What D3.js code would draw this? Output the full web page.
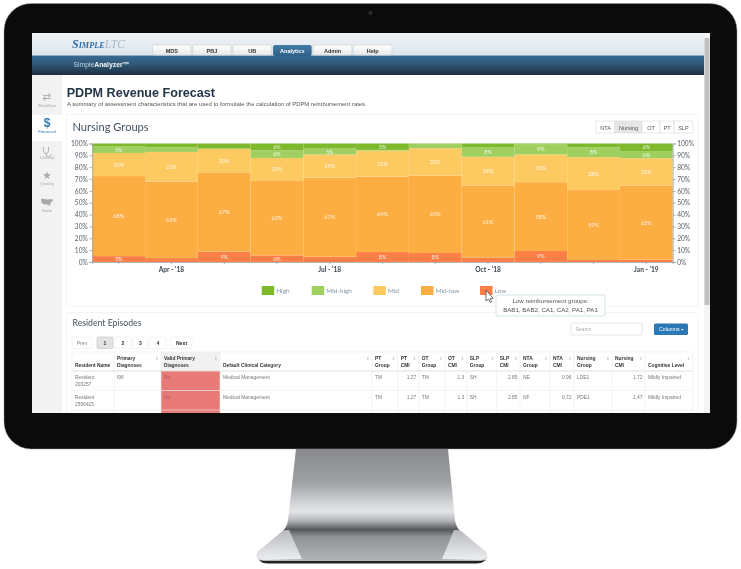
<!DOCTYPE html>
<html>
<head>
<meta charset="utf-8">
<title>PDPM Revenue Forecast</title>
<script src="https://cdn.jsdelivr.net/npm/d3@7"></script>
<style>
  html, body { margin: 0; background: #fff; }
  svg { display: block; }
</style>
</head>
<body>
<svg id="page" width="741" height="569"></svg>
<script>
// Chart data (share of residents per month, in %)
const months = ["Mar - '18", "Apr - '18", "May - '18", "Jun - '18", "Jul - '18", "Aug - '18", "Sep - '18", "Oct - '18", "Nov - '18", "Dec - '18", "Jan - '19"];
const labelledMonths = ["Apr - '18", "Jul - '18", "Oct - '18", "Jan - '19"];
const lowValues     = [5.0, 3.3, 8.7, 5.6, 4.5, 8.4, 7.6, 3.6, 9.3, 1.7, 2.0];
const midLowValues  = [67.5, 64.6, 66.5, 62.8, 66.8, 63.6, 65.2, 61.0, 58.1, 59.0, 62.6];
const midValues     = [19.5, 25.0, 20.2, 19.4, 19.4, 22.0, 23.2, 24.2, 23.4, 27.8, 23.0];
const midHighValues = [5.4, 3.9, 0.3, 6.4, 5.0, 0.6, 3.7, 8.2, 8.7, 8.3, 6.1];
const highValues    = [2.6, 3.2, 4.3, 5.8, 4.3, 5.4, 0.3, 3.0, 0.5, 3.2, 6.3];
const yTicks = [0, 10, 20, 30, 40, 50, 60, 70, 80, 90, 100];

// Legend order is top of the stack first
const groupNames = ["High", "Mid-high", "Mid", "Mid-low", "Low"];
const groupColors = ["#7db92c", "#9fd05e", "#fcca60", "#fdae42", "#fd7f47"];
const groupValues = [highValues, midHighValues, midValues, midLowValues, lowValues];

const tabs = ["MDS", "PBJ", "UB", "Analytics", "Admin", "Help"];
const groupButtons = ["NTA", "Nursing", "OT", "PT", "SLP"];
const pages = ["Prev", "1", "2", "3", "4", "Next"];
const sideItems = ["Workflow", "Financial", "Clinical", "Quality", "State"];
const tableHead = [["Resident Name"], ["Primary", "Diagnoses"], ["Valid Primary", "Diagnoses"], ["Default Clinical Category"], ["PT", "Group"], ["PT", "CMI"], ["OT", "Group"], ["OT", "CMI"], ["SLP", "Group"], ["SLP", "CMI"], ["NTA", "Group"], ["NTA", "CMI"], ["Nursing", "Group"], ["Nursing", "CMI"], ["Cognitive Level"]];
const tableRows = [
  [["Resident", "203257"], ["I96"], ["No"], ["Medical Management"], ["TM"], ["1.27"], ["TM"], ["1.3"], ["SH"], ["2.85"], ["NE"], ["0.96"], ["LDE1"], ["1.72"], ["Mildly Impaired"]],
  [["Resident", "2556415"], [""], ["No"], ["Medical Management"], ["TM"], ["1.27"], ["TM"], ["1.3"], ["SH"], ["2.85"], ["NF"], ["0.72"], ["PDE1"], ["1.47"], ["Mildly Impaired"]],
  [[""], [""], [""], [""], [""], [""], [""], [""], [""], [""], [""], [""], [""], [""], [""]]
];
const tooltipLines = ["Low reimbursement groups:", "BAB1, BAB2, CA1, CA2, PA1, PA1"];

const svg = d3.select("#page");
const defs = svg.append("defs");
const sans = "'Liberation Sans', Arial, sans-serif";
const lato = "Lato, 'Open Sans', sans-serif";

function gradient(id, stops) {
  const g = defs.append("linearGradient").attr("id", id).attr("x1", 0).attr("y1", 0).attr("x2", 0).attr("y2", 1);
  stops.forEach(s => g.append("stop").attr("offset", s[0]).attr("stop-color", s[1]));
}
gradient("topBand", [[0, "#eef2f6"], [1, "#dde5ec"]]);
gradient("navBand", [[0, "#386a92"], [0.45, "#2f5877"], [1, "#1d3040"]]);
gradient("tab", [[0, "#ffffff"], [1, "#e9e9e9"]]);
gradient("tabOn", [[0, "#3f7ba6"], [1, "#2f6288"]]);
gradient("stand", [[0, "#87888c"], [0.3, "#a0a1a4"], [0.5, "#d8d9db"], [0.56, "#e3e4e6"], [0.64, "#b4b5b8"], [0.72, "#55565a"], [0.78, "#8f9094"], [1, "#b4b5b8"]]);
gradient("foot", [[0, "#b9babd"], [1, "#eceef0"]]);
defs.append("filter").attr("id", "soft").append("feGaussianBlur").attr("stdDeviation", 0.3);
defs.append("clipPath").attr("id", "screen").append("rect").attr("x", 32.5).attr("y", 33.5).attr("width", 677).attr("height", 379.5);

function rect(parent, x0, y0, x1, y1, fill, stroke, rx) {
  return parent.append("rect").attr("x", x0).attr("y", y0).attr("width", x1 - x0).attr("height", y1 - y0)
    .attr("fill", fill).attr("stroke", stroke || "none").attr("stroke-width", stroke ? 0.7 : 0).attr("rx", rx || 0);
}
function label(parent, x, y, str, size, color, opts) {
  const o = opts || {};
  return parent.append("text").attr("x", x).attr("y", y).text(str)
    .attr("font-family", o.family || lato).attr("font-size", size).attr("fill", color)
    .attr("font-weight", o.weight || 400).attr("font-style", o.style || "normal")
    .attr("text-anchor", o.anchor || "start");
}

// Monitor: stand first, then the bezel over it
const stand = svg.append("g");
stand.append("path").attr("d", "M257,556 Q256,553 259,551 L283,531 Q287,527 288,520 L296,449 L448,449 L455,520 Q456,527 460,531 L484,551 Q488,554 487,557 Q486,561 480,561 L264,561 Q258,561 257,556 Z")
  .attr("fill", "url(#stand)");
stand.append("path").attr("d", "M257,556 Q256,553 259,551 L283,531 Q285,530 289,530 L302,559 L264,560 Q258,560 257,556 Z").attr("fill", "url(#foot)");
stand.append("path").attr("d", "M487,556 Q488,553 485,551 L461,531 Q459,530 454,530 L442,559 L480,560 Q486,560 487,556 Z").attr("fill", "url(#foot)");
stand.append("path").attr("d", "M259,560 Q262,563.5 268,563.5 L476,563.5 Q482,563.5 486,560 L480,561 L264,561 Z").attr("fill", "#222");

rect(svg, 4, 3.5, 737, 449, "#0b0b0b", null, 27).attr("stroke", "#9a9a9a").attr("stroke-width", 0.5);
svg.append("circle").attr("cx", 370.5).attr("cy", 13).attr("r", 2).attr("fill", "#2c2c30");

// Everything inside the screen is clipped, the table runs off the bottom
const screen = svg.append("g").attr("clip-path", "url(#screen)").attr("filter", "url(#soft)");
rect(screen, 32, 33, 710, 414, "#ffffff");

// Header bands and tabs
rect(screen, 32, 33, 704, 55.5, "url(#topBand)");
rect(screen, 32, 55.5, 704, 75, "url(#navBand)");
const logo = screen.append("text").attr("x", 72).attr("y", 48).attr("font-family", "'Liberation Serif', serif").attr("font-style", "italic");
logo.append("tspan").text("S").attr("font-size", 12).attr("fill", "#2f6fa6").attr("font-weight", 700);
logo.append("tspan").text("IMPLE").attr("font-size", 8.2).attr("fill", "#2f6fa6").attr("font-weight", 700);
logo.append("tspan").text("LTC").attr("font-size", 11.5).attr("fill", "#a9bac8");

const tabX = d3.scaleBand().domain(tabs).range([152.5, 392]).paddingInner(0.04);
tabs.forEach(t => {
  const on = t === "Analytics";
  rect(screen, tabX(t), 45, tabX(t) + tabX.bandwidth(), on ? 56 : 55, on ? "url(#tabOn)" : "url(#tab)", on ? null : "#d0d4d8", 2);
  label(screen, tabX(t) + tabX.bandwidth() / 2, 52.5, t, 5.5, on ? "#fff" : "#333", { family: sans, weight: 700, anchor: "middle" });
});
const product = screen.append("text").attr("x", 73.5).attr("y", 66.5).attr("font-family", sans).attr("font-size", 6.8);
product.append("tspan").text("Simple").attr("fill", "#bfd2e0");
product.append("tspan").text("Analyzer™").attr("fill", "#f2f5f7").attr("font-weight", 700);

// Side navigation
rect(screen, 32, 75, 62, 414, "#f2f2f2");
rect(screen, 32, 115, 64, 141, "#ffffff");
const sideY = d3.scalePoint().domain(sideItems).range([106.5, 211.5]);
sideItems.forEach(s => {
  const on = s === "Financial";
  label(screen, 47, sideY(s), s, 4.4, on ? "#2f7ab5" : "#a8a8a8", { family: sans, anchor: "middle" });
});
label(screen, 47, 127, "$", 12, "#2f7ab5", { family: sans, weight: 700, anchor: "middle" });
label(screen, 47, 99.5, "⇄", 10.5, "#a9a9a9", { family: "'DejaVu Sans'", anchor: "middle" });
label(screen, 47, 178.5, "★", 10.5, "#a9a9a9", { family: "'DejaVu Sans'", anchor: "middle" });
// Stethoscope and map glyphs have no font equivalent
screen.append("path").attr("d", "M43.5,147 v3.5 q0,3 2.5,3 q2.5,0 2.5,-3 v-3.5 M46,153.5 q0,3.5 2.5,3.5 q2.5,0 2.5,-2.5").attr("fill", "none").attr("stroke", "#b0b0b0").attr("stroke-width", 1);
screen.append("path").attr("d", "M41,198.5 L47,199.5 L52.5,199 L53,200.5 L50.5,203 L50,206 L48,204.5 L44,204.5 L41.5,202.5 Z").attr("fill", "#a9a9a9");

// Page heading
label(screen, 66.7, 96.8, "PDPM Revenue Forecast", 12.6, "#24354a", { family: sans, weight: 700 });
label(screen, 67, 105.5, "A summary of assessment characteristics that are used to formulate the calculation of PDPM reimbursement rates.", 5.92, "#555", { family: sans });

// Cards
rect(screen, 66.5, 114.5, 698, 306, "#fff", "#eeeeee", 2);
rect(screen, 66.5, 312.5, 698, 420, "#fff", "#eeeeee", 2);
label(screen, 72.5, 131, "Nursing Groups", 11.1, "#44525f");
label(screen, 72.5, 326, "Resident Episodes", 8.7, "#44525f");

// NTA / Nursing / OT / PT / SLP switch
const groupBtnEdges = [596, 615, 642, 660, 674, 693];
groupButtons.forEach((b, i) => {
  const on = b === "Nursing";
  rect(screen, groupBtnEdges[i], 121, groupBtnEdges[i + 1], 133, on ? "#e6e6e6" : "#fff", "#dddddd");
  label(screen, (groupBtnEdges[i] + groupBtnEdges[i + 1]) / 2, 129.5, b, 5.5, "#555", { family: sans, anchor: "middle" });
});

// Stacked bars: scales run over the months and the 0-100 share axis
const plot = { left: 92.3, right: 672.7, top: 143.5, bottom: 262 };
const x = d3.scaleBand().domain(months).range([plot.left, plot.right]);
const y = d3.scaleLinear().domain([0, 100]).range([plot.bottom, plot.top]);

const stackRows = months.map((m, i) => {
  const row = { month: m };
  groupNames.forEach((g, k) => { row[g] = groupValues[k][i]; });
  return row;
});
const stacked = d3.stack().keys(groupNames.slice().reverse())(stackRows);
const color = d3.scaleOrdinal().domain(groupNames).range(groupColors);

const layers = screen.append("g").selectAll("g").data(stacked).join("g")
  .attr("fill", d => color(d.key));
layers.selectAll("rect").data(d => d).join("rect")
  .attr("x", d => x(d.data.month))
  .attr("y", d => y(d[1]))
  .attr("width", x.bandwidth())
  .attr("height", d => y(d[0]) - y(d[1]))
  .attr("stroke", "#ffffff").attr("stroke-opacity", 0.05).attr("stroke-width", 0.5);
// Segments under 5% carry no label
layers.selectAll("text").data(d => d.filter(v => v[1] - v[0] >= 5)).join("text")
  .attr("x", d => x(d.data.month) + x.bandwidth() / 2)
  .attr("y", d => (y(d[0]) + y(d[1])) / 2 + 2)
  .attr("text-anchor", "middle")
  .attr("font-family", lato).attr("font-size", 5.5).attr("fill", "#fff").attr("fill-opacity", 0.85)
  .text(d => Math.round(d[1] - d[0]) + "%");

function styleAxis(g) {
  g.selectAll("path, line").attr("stroke", "#8f98a0").attr("stroke-width", 0.7);
  g.selectAll("text").attr("font-family", lato).attr("font-size", 6.6).attr("fill", "#56606a");
}
const yFormat = d => d + "%";
screen.append("g").attr("transform", `translate(${plot.left},0)`)
  .call(d3.axisLeft(y).tickValues(yTicks).tickFormat(yFormat).tickSize(3).tickPadding(1.5)).call(styleAxis);
screen.append("g").attr("transform", `translate(${plot.right},0)`)
  .call(d3.axisRight(y).tickValues(yTicks).tickFormat(yFormat).tickSize(3).tickPadding(1.5)).call(styleAxis);
screen.append("g").attr("transform", `translate(0,${plot.bottom})`)
  .call(d3.axisBottom(x).tickFormat(m => labelledMonths.includes(m) ? m : "").tickSize(2).tickPadding(3.5))
  .call(styleAxis)
  .call(g => g.selectAll("text").attr("font-weight", 700).attr("fill", "#3c4650"));

// Legend
const legendX = [261.7, 311.7, 373.3, 421, 480];
groupNames.forEach((g, i) => {
  rect(screen, legendX[i], 286, legendX[i] + 12.5, 295, color(g));
  label(screen, legendX[i] + 14.5, 293, g, 6.5, "#8497a6");
});

// Tooltip and mouse pointer
rect(screen, 496, 295, 605, 316, "#fff", "#bcd6dc", 2);
tooltipLines.forEach((l, i) => {
  label(screen, 550.5, 303 + i * 8.7, l, 6.15, "#555", { family: sans, anchor: "middle" });
});
screen.append("path").attr("d", "M486,290 v11 l2.5,-2 l1.6,3.5 l1.6,-0.8 l-1.6,-3.4 h3 Z").attr("fill", "#fff").attr("stroke", "#333").attr("stroke-width", 0.7);

// Table tools
rect(screen, 571, 323, 642, 335, "#fff", "#dddddd", 1);
label(screen, 575.5, 331, "Search", 5, "#aaaaaa", { family: sans });
rect(screen, 654, 323.5, 688, 335, "#2a79b6", null, 1.5);
label(screen, 659, 331.3, "Columns", 5.2, "#fff", { family: sans });
screen.append("path").attr("d", "M681,329 h2.6 l-1.3,1.5 Z").attr("fill", "#fff");

// Pagination
const pageEdges = [[72, 92], [97, 113], [115, 131], [133, 148], [150, 166], [171, 192]];
pages.forEach((p, i) => {
  const on = p === "1";
  rect(screen, pageEdges[i][0], 337, pageEdges[i][1], 348.5, on ? "#e2e2e2" : "#fff", on ? "#cccccc" : "#eeeeee", 1);
  label(screen, (pageEdges[i][0] + pageEdges[i][1]) / 2, 344.8, p, 5.2, p === "Prev" ? "#888" : "#333",
    { family: sans, weight: p === "Prev" ? 400 : 700, anchor: "middle" });
});

// Table: column 2 is the highlighted one, number columns sit right-aligned
const colEdges = [72, 114, 161, 220, 372, 397.7, 418.7, 445, 466.7, 496.7, 520, 550, 574, 612, 645, 692.7];
const rightCols = [5, 7, 9, 11, 13];
const headTop = 352, headBottom = 371, rowH = 19.5;
rect(screen, colEdges[2], headTop, colEdges[3], headBottom, "#f1f1f1");
tableRows.forEach((r, i) => {
  rect(screen, colEdges[2], headBottom + i * rowH, colEdges[3], headBottom + (i + 1) * rowH, "#e87a78");
});
colEdges.forEach(e => screen.append("line").attr("x1", e).attr("x2", e).attr("y1", headTop).attr("y2", 414).attr("stroke", "#ededed").attr("stroke-width", 0.6));
[headTop, headBottom, headBottom + rowH, headBottom + 2 * rowH].forEach((v, i) => {
  screen.append("line").attr("x1", colEdges[0]).attr("x2", colEdges[15]).attr("y1", v).attr("y2", v)
    .attr("stroke", i === 1 ? "#dddddd" : "#ededed").attr("stroke-width", i === 1 ? 0.9 : 0.6);
});
tableHead.forEach((h, c) => {
  const lastY = 366.5;
  h.forEach((l, k) => {
    label(screen, colEdges[c] + 3, lastY - (h.length - 1 - k) * 7, l, 4.9, "#333", { family: sans, weight: 700 });
  });
  if (c > 0) label(screen, colEdges[c + 1] - 2.5, 360, "↕", 4, "#aaaaaa", { family: "'DejaVu Sans'", anchor: "end" });
});
tableRows.forEach((r, i) => {
  r.forEach((cell, c) => {
    cell.forEach((l, k) => {
      const right = rightCols.includes(c);
      const col = c === 2 ? "#a45a58" : "#777777";
      label(screen, right ? colEdges[c + 1] - 2.5 : colEdges[c] + 3, headBottom + i * rowH + 8 + k * 7, l, 4.9, col,
        { family: sans, anchor: right ? "end" : "start" });
    });
  });
});

// Scrollbar on the right of the screen
rect(screen, 704, 33, 710, 414, "#f4f4f4");
rect(screen, 704.5, 38, 709.5, 305, "#bfbfbf");
</script>
</body>
</html>
